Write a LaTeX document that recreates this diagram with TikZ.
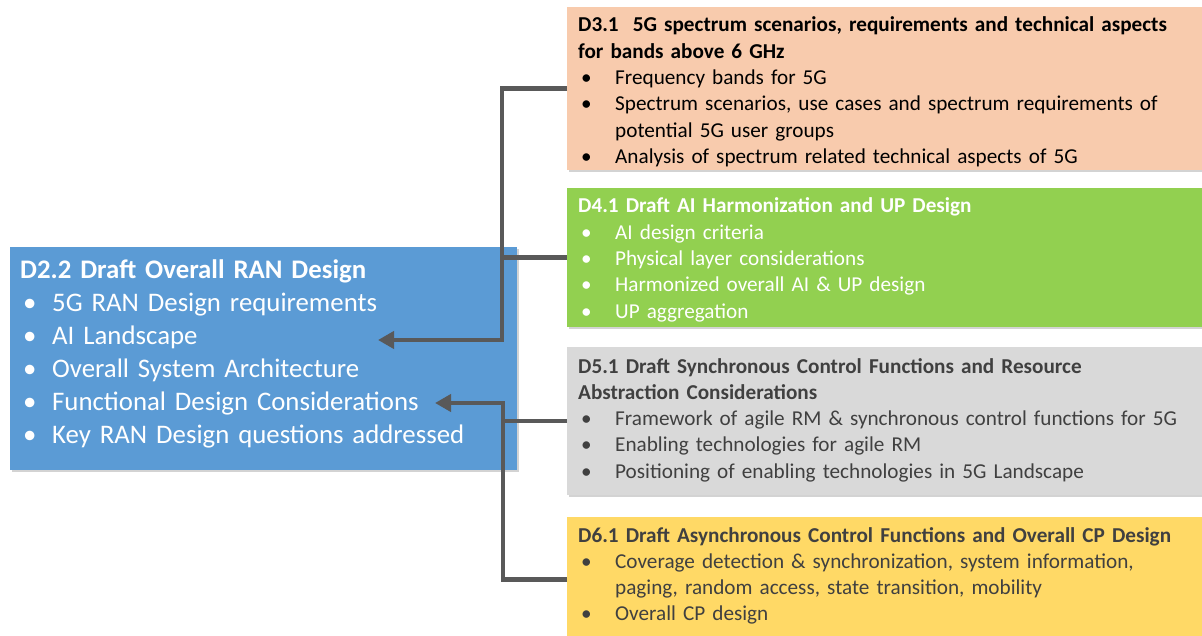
\documentclass[tikz,border=0pt]{standalone}
\usepackage{fontspec}
\setmainfont{Carlito}
\usetikzlibrary{arrows.meta,shadows}
\definecolor{cblue}{HTML}{5B9BD5}
\definecolor{cgreen}{HTML}{92D050}
\definecolor{cpeach}{HTML}{F8CBAD}
\definecolor{cgray}{HTML}{D9D9D9}
\definecolor{cyellow}{HTML}{FFD966}
\definecolor{cline}{HTML}{595959}
\definecolor{cdark}{HTML}{404040}
\newlength{\bind}\newlength{\bpre}
\newcommand{\bitem}[1]{\par\noindent\makebox[\bind][l]{\hspace{\bpre}\textbullet}#1}
\newcommand{\cont}{\\\hspace*{\bind}}
\tikzset{
  box/.style={draw=none, inner sep=0pt, anchor=north west,
    drop shadow={opacity=0.35, shadow xshift=2pt, shadow yshift=-2pt}},
  txt/.style={inner sep=0pt, anchor=base west, align=left},
  rtxt/.style={txt, text width=640pt,
    font=\fontsize{21.2}{26.3}\selectfont\setlength{\bind}{37pt}\setlength{\bpre}{3pt}},
  conn/.style={draw=cline, line width=4.5pt},
  tip/.style={-{Triangle[length=16pt,width=17pt]}}
}
\begin{document}
\begin{tikzpicture}[x=1pt,y=-1pt]
\useasboundingbox (0,0) rectangle (1202,636);
% boxes
\node[box, fill=cblue, minimum width=507pt, minimum height=223pt] (d22) at (10,247) {};
\node[box, fill=cpeach, minimum width=640pt, minimum height=163pt] (d31) at (567,7) {};
\node[box, fill=cgreen, minimum width=640pt, minimum height=139pt] (d41) at (567,188) {};
\node[box, fill=cgray, minimum width=640pt, minimum height=148pt] (d51) at (567,347) {};
\node[box, fill=cyellow, minimum width=640pt, minimum height=125pt] (d61) at (567,517) {};
% texts
\node[txt, text width=495pt, text=white,
  font=\fontsize{26.8}{33}\selectfont\setlength{\bind}{32pt}\setlength{\bpre}{3pt}] (t22) at (20,279) {%
\textbf{D2.2 Draft Overall RAN Design}
\bitem{5G RAN Design requirements}
\bitem{AI Landscape}
\bitem{Overall System Architecture}
\bitem{Functional Design Considerations}
\bitem{Key RAN Design questions addressed}};
\node[rtxt, text=black] (t31) at (578,32) {%
\textbf{D3.1\ \ 5G spectrum scenarios, requirements and technical aspects}\\\textbf{for bands above 6 GHz}
\bitem{Frequency bands for 5G}
\bitem{Spectrum scenarios, use cases and spectrum requirements of\cont potential 5G user groups}
\bitem{Analysis of spectrum related technical aspects of 5G}};
\node[rtxt, text=white] (t41) at (578,213) {%
\textbf{D4.1 Draft AI Harmonization and UP Design}
\bitem{AI design criteria}
\bitem{Physical layer considerations}
\bitem{Harmonized overall AI \& UP design}
\bitem{UP aggregation}};
\node[rtxt, text=cdark] (t51) at (578,373) {%
\textbf{D5.1 Draft Synchronous Control Functions and Resource}\\\textbf{Abstraction Considerations}
\bitem{Framework of agile RM \& synchronous control functions for 5G}
\bitem{Enabling technologies for agile RM}
\bitem{Positioning of enabling technologies in 5G Landscape}};
\node[rtxt, text=cdark] (t61) at (578,542) {%
\textbf{D6.1 Draft Asynchronous Control Functions and Overall CP Design}
\bitem{Coverage detection \& synchronization, system information,\cont paging, random access, state transition, mobility}
\bitem{Overall CP design}};
% connectors
\coordinate (j1) at (502,340);
\coordinate (a1) at (378,340);
\coordinate (j2) at (503,403);
\coordinate (a2) at (435,403);
\draw[conn] (d41.west) -- (d41.west -| j1);
\draw[conn, tip] (d31.west) -| (j1) -- (a1);
\draw[conn] (d51.west) -- (d51.west -| j2);
\draw[conn, tip] (d61.west) -| (j2) -- (a2);
\end{tikzpicture}
\end{document}
